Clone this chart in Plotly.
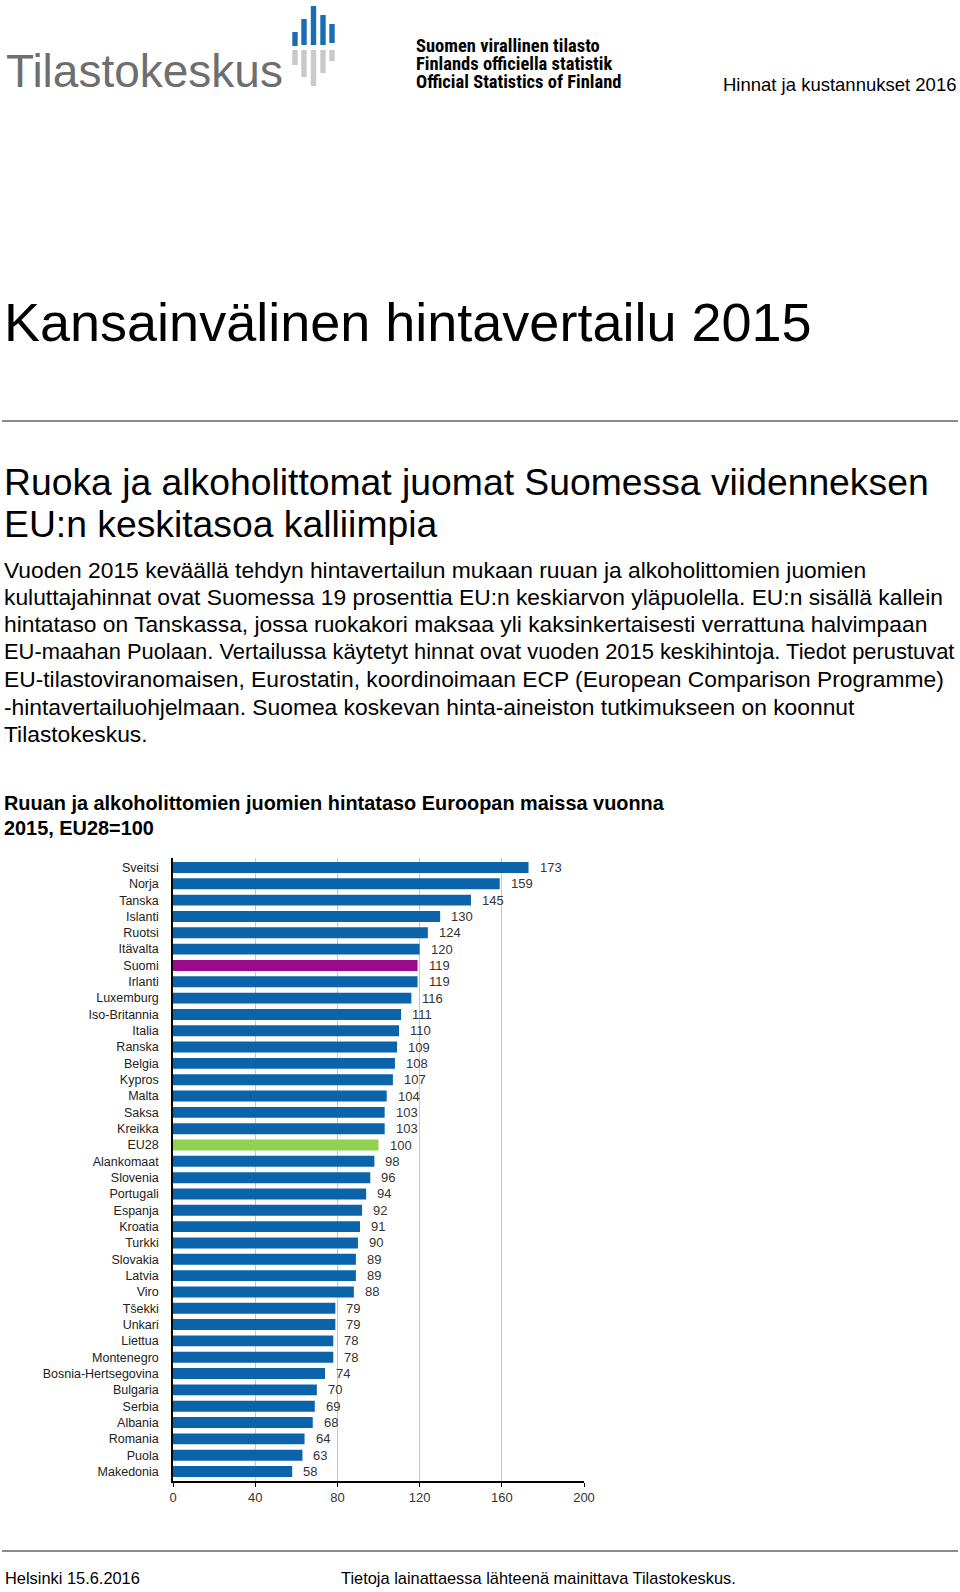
import plotly.graph_objects as go

# ---------------- data ----------------
countries = ["Sveitsi", "Norja", "Tanska", "Islanti", "Ruotsi", "Itävalta", "Suomi",
             "Irlanti", "Luxemburg", "Iso-Britannia", "Italia", "Ranska", "Belgia",
             "Kypros", "Malta", "Saksa", "Kreikka", "EU28", "Alankomaat", "Slovenia",
             "Portugali", "Espanja", "Kroatia", "Turkki", "Slovakia", "Latvia", "Viro",
             "Tšekki", "Unkari", "Liettua", "Montenegro", "Bosnia-Hertsegovina",
             "Bulgaria", "Serbia", "Albania", "Romania", "Puola", "Makedonia"]
values = [173, 159, 145, 130, 124, 120, 119, 119, 116, 111, 110, 109, 108, 107, 104,
          103, 103, 100, 98, 96, 94, 92, 91, 90, 89, 89, 88, 79, 79, 78, 78, 74, 70,
          69, 68, 64, 63, 58]
x_ticks = [0, 40, 80, 120, 160, 200]

body_lines = [
    "Vuoden 2015 keväällä tehdyn hintavertailun mukaan ruuan ja alkoholittomien juomien",
    "kuluttajahinnat ovat Suomessa 19 prosenttia EU:n keskiarvon yläpuolella. EU:n sisällä kallein",
    "hintataso on Tanskassa, jossa ruokakori maksaa yli kaksinkertaisesti verrattuna halvimpaan",
    "EU-maahan Puolaan. Vertailussa käytetyt hinnat ovat vuoden 2015 keskihintoja. Tiedot perustuvat",
    "EU-tilastoviranomaisen, Eurostatin, koordinoimaan ECP (European Comparison Programme)",
    "-hintavertailuohjelmaan. Suomea koskevan hinta-aineiston tutkimukseen on koonnut",
    "Tilastokeskus.",
]
body_sizes = [22.8, 22.8, 22.8, 21.9, 22.8, 22.8, 22.8]

# ---------------- style ----------------
BLUE = "#0b64aa"
PURPLE = "#9b0a8a"
GREEN = "#92d050"
FONT = "Liberation Sans, Arial, sans-serif"

W, H = 960, 1592
ML, MR, MT, MB = 173, 376, 858, 111
PW, PH = W - ML - MR, H - MT - MB


def px(x):
    return (x - ML) / PW


def py(y):
    return (H - MB - y) / PH


colors = [PURPLE if c == "Suomi" else GREEN if c == "EU28" else BLUE for c in countries]

fig = go.Figure()
fig.add_trace(go.Bar(
    x=values, y=countries, orientation="h",
    marker=dict(color=colors, line=dict(width=0)),
    hoverinfo="x+y",
))

annotations = []
# value labels
for c, v in zip(countries, values):
    annotations.append(dict(x=v, y=c, xref="x", yref="y", text=str(v), showarrow=False,
                            xanchor="left", yanchor="middle", xshift=9,
                            font=dict(family=FONT, size=13, color="#333333")))


def text(x, y, s, size, color="#000000", anchor="left", bold=False, family=FONT):
    annotations.append(dict(x=px(x), y=py(y), xref="paper", yref="paper",
                            text=("<b>%s</b>" % s) if bold else s, showarrow=False,
                            xanchor=anchor, yanchor="middle",
                            font=dict(family=family, size=size, color=color)))


# header / logo texts
text(4, 71, "Tilastokeskus", 46, color="#6e6e6e")
NARROW = "Liberation Sans Narrow, Roboto Condensed, Roboto, sans-serif"
text(414, 46, "Suomen virallinen tilasto", 18.5, bold=True, family=NARROW)
text(414, 64, "Finlands officiella statistik", 18.5, bold=True, family=NARROW)
text(414, 82, "Official Statistics of Finland", 18.5, bold=True, family=NARROW)
text(958, 84, "Hinnat ja kustannukset 2016", 18.5, anchor="right")

# titles
text(2, 322, "Kansainvälinen hintavertailu 2015", 54)
text(2, 482, "Ruoka ja alkoholittomat juomat Suomessa viidenneksen", 37.3)
text(2, 524, "EU:n keskitasoa kalliimpia", 37.3)
for i, (line, sz) in enumerate(zip(body_lines, body_sizes)):
    text(2, 569.5 + i * 27.4, line, sz)
text(2, 803, "Ruuan ja alkoholittomien juomien hintataso Euroopan maissa vuonna", 19.9, bold=True)
text(2, 828, "2015, EU28=100", 19.9, bold=True)

# footer
text(3, 1578, "Helsinki 15.6.2016", 16.4)
text(339, 1578, "Tietoja lainattaessa lähteenä mainittava Tilastokeskus.", 16.4)

shapes = []
# separator lines
for yy in (421, 1551):
    shapes.append(dict(type="line", xref="paper", yref="paper", x0=px(2), x1=px(958),
                       y0=py(yy), y1=py(yy), line=dict(color="#8a8a8a", width=2)))

# logo bars (decorative)
logo_x = [295, 304, 313.5, 323, 332]
blue_top = [32, 19, 6, 15, 24]
blue_bot = [46, 45, 45, 45, 43]
gray_top = [50, 50, 50, 50, 50]
gray_bot = [65, 77, 86, 73, 61]
for lx, bt, bb, gt, gb in zip(logo_x, blue_top, blue_bot, gray_top, gray_bot):
    shapes.append(dict(type="rect", xref="paper", yref="paper", x0=px(lx - 2.7), x1=px(lx + 2.7),
                       y0=py(bb), y1=py(bt), fillcolor="#1b6db3", line=dict(width=0)))
    shapes.append(dict(type="rect", xref="paper", yref="paper", x0=px(lx - 2.7), x1=px(lx + 2.7),
                       y0=py(gb), y1=py(gt), fillcolor="#c9c9c9", line=dict(width=0)))

fig.update_layout(
    width=W, height=H, autosize=False,
    margin=dict(l=ML, r=MR, t=MT, b=MB, pad=0),
    paper_bgcolor="white", plot_bgcolor="white",
    showlegend=False,
    bargap=0.33,
    annotations=annotations,
    shapes=shapes,
    font=dict(family=FONT, color="#222222"),
)
fig.update_xaxes(range=[0, 200], tickvals=x_ticks, ticktext=[str(t) for t in x_ticks],
                 showgrid=True, gridcolor="#c8c8c8", gridwidth=1,
                 showline=True, linecolor="#000000", linewidth=1.5,
                 ticks="outside", ticklen=4, tickcolor="#000000",
                 tickfont=dict(family=FONT, size=13, color="#333333"),
                 zeroline=False, fixedrange=True)
fig.update_yaxes(categoryorder="array", categoryarray=countries, autorange="reversed",
                 showgrid=False, showline=True, linecolor="#000000", linewidth=1.5,
                 ticks="", ticklabelstandoff=10,
                 tickfont=dict(family=FONT, size=12.5, color="#222222"),
                 fixedrange=True)

fig.write_html("out.html", config={"displayModeBar": False},
               post_script="document.body.style.margin='0';document.body.style.overflow='hidden';")
